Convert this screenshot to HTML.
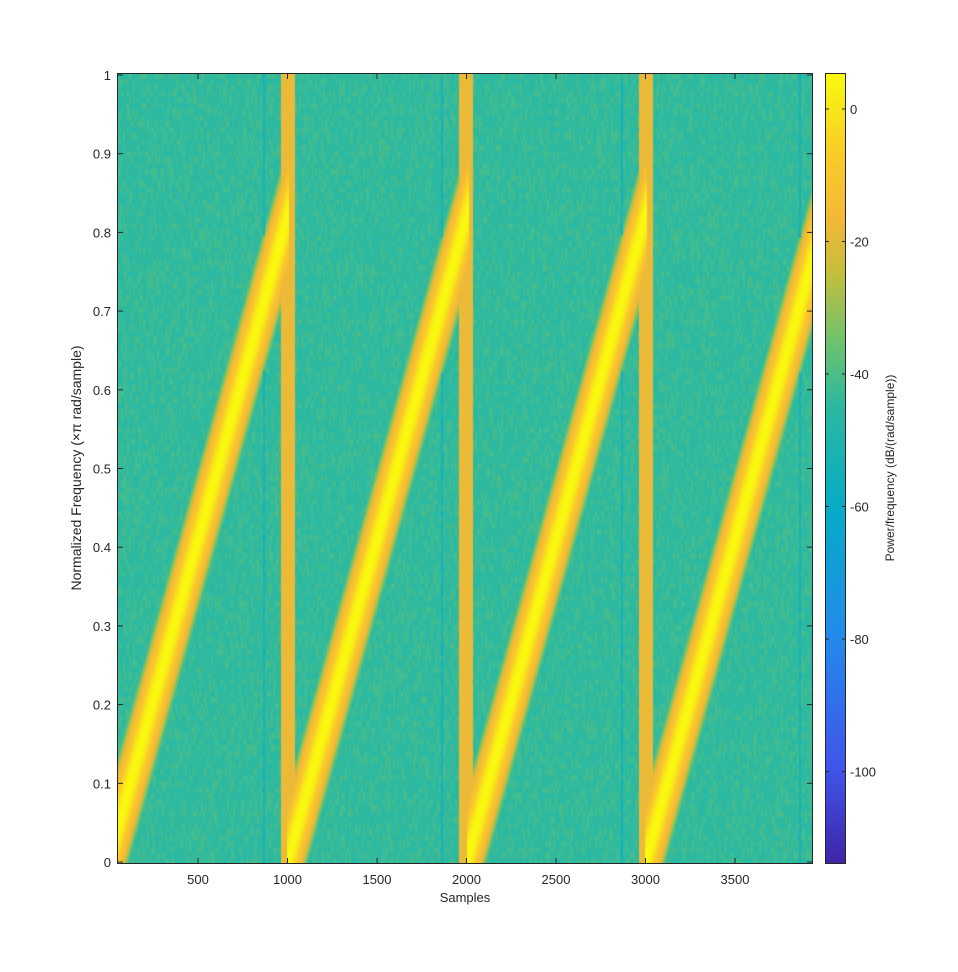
<!DOCTYPE html>
<html><head><meta charset="utf-8"><style>
body{margin:0;background:#fff;width:958px;height:972px;overflow:hidden;font-family:"Liberation Sans",sans-serif}
#wrap{position:relative;width:958px;height:972px}
canvas{position:absolute}
svg{position:absolute;left:0;top:0}
text{font-family:"Liberation Sans",sans-serif;font-size:13px;fill:#262626}
</style></head><body>
<div id="wrap">
<canvas id="hm" width="696" height="791" style="left:117px;top:73px"></canvas>
<canvas id="cb" width="21" height="791" style="left:825px;top:73px"></canvas>
<svg id="ax" width="958" height="972"></svg>
</div>
<script>
// data
const sweepStarts=[0,1000,2000,3000];
const sweepPeriod=[1000,1000,1000,1000];
const sweepEndFreq=[0.82,0.82,0.82,0.82];
const peakDb=[5,5,5,5];
const noiseFloorDb=-44;
const xTicks=[500,1000,1500,2000,2500,3000,3500];
const yTicks=[0,0.1,0.2,0.3,0.4,0.5,0.6,0.7,0.8,0.9,1];
const cTicks=[0,-20,-40,-60,-80,-100];
// axes
const X0=117,X1=813,Y0=73,Y1=864;
const sMin=47,sMax=3936;
const sx=s=>108.5+(s/500)*89.5;
const fy=f=>862-f*787;
const cy=d=>109+(-d/20)*132.5;
const cMax=5.4,cMin=-114;
const stopT=[0,0.12,0.29,0.45,0.58,0.66,0.75,0.82,0.9,1];
const stopC=[[62,38,168],[65,85,235],[35,140,235],[5,172,200],[45,185,160],[110,195,110],[200,190,60],[245,185,55],[250,205,40],[249,251,14]];
function parula(t){t=Math.max(0,Math.min(1,t));let i=0;while(i<stopT.length-2&&t>stopT[i+1])i++;
const r=(t-stopT[i])/(stopT[i+1]-stopT[i]),a=stopC[i],b=stopC[i+1];
return [a[0]+(b[0]-a[0])*r,a[1]+(b[1]-a[1])*r,a[2]+(b[2]-a[2])*r];}
function hash(a,b){let h=(a*374761393+b*668265263)|0;h=(h^(h>>>13))*1274126177|0;return ((h^(h>>>16))>>>0)/4294967296;}
function power(s,f,ci,ri){
  let p=noiseFloorDb+(hash(ci,ri)-0.5)*7;
  if(hash(ci,ri+777)>0.86) p-=18;
  for(let k=0;k<sweepStarts.length;k++){
    const st=sweepStarts[k];
    if(Math.abs(s-(st+sweepPeriod[k]))<37 && st+sweepPeriod[k]<sMax) p=Math.max(p,-18);
    const ph=s-st;
    if(ph>=-40&&ph<sweepPeriod[k]+10){
      const fc=Math.max(0,ph)/sweepPeriod[k]*sweepEndFreq[k];
      const d=Math.abs(f-fc);
      let band;
      if(d<0.04) band=peakDb[k]-12*(d/0.04)**2;
      else if(d<0.07) band=-7-12*((d-0.04)/0.03);
      else band=-19-26*Math.min(1,(d-0.07)/0.025);
      if(ph<0) band-=30;
      p=Math.max(p,band);
    }
    if(Math.abs(ph-865)<6 && st+865<sMax && p<-35) p=-53+(hash(ci,ri)-0.5)*8;
  }
  return p;
}
const hm=document.getElementById('hm').getContext('2d');
const W=696,H=791,img=hm.createImageData(W,H);
const cw=2,rh=3;
for(let cx=0;cx<W;cx+=cw){
  const s=sMin+(cx+cw/2)/W*(sMax-sMin);
  for(let ry=0;ry<H;ry+=rh){
    const f=(862-(Y0+ry+rh/2))/787;
    const c=parula((power(s,f,cx/cw,Math.floor(ry/6))-cMin)/(cMax-cMin));
    for(let x=cx;x<Math.min(W,cx+cw);x++)for(let y=ry;y<Math.min(H,ry+rh);y++){
      const o=(y*W+x)*4;img.data[o]=c[0];img.data[o+1]=c[1];img.data[o+2]=c[2];img.data[o+3]=255;}
  }
}
hm.putImageData(img,0,0);
const cb=document.getElementById('cb').getContext('2d');
for(let y=0;y<791;y++){const c=parula(1-y/790);cb.fillStyle=`rgb(${c[0]|0},${c[1]|0},${c[2]|0})`;cb.fillRect(0,y,21,1);}
// svg axes
const svg=document.getElementById('ax'),NS='http://www.w3.org/2000/svg';
function el(t,a,txt){const e=document.createElementNS(NS,t);for(const k in a)e.setAttribute(k,a[k]);if(txt!==undefined)e.textContent=txt;svg.appendChild(e);return e;}
let e=el('rect',{x:X0+0.5,y:Y0+0.5,width:X1-X0-1,height:Y1-Y0-1,fill:'none',stroke:'#262626'});

e=el('rect',{x:825.5,y:73.5,width:20,height:790,fill:'none',stroke:'#262626'});

xTicks.forEach(v=>{const x=sx(v);
  el('line',{x1:x,y1:Y1,x2:x,y2:Y1-6,stroke:'#262626'});el('line',{x1:x,y1:Y0,x2:x,y2:Y0+6,stroke:'#262626'});
  const t=el('text',{x:x,y:884,'text-anchor':'middle'},String(v));
  });
yTicks.forEach(v=>{const y=fy(v);
  el('line',{x1:X0,y1:y,x2:X0+6,y2:y,stroke:'#262626'});el('line',{x1:X1,y1:y,x2:X1-6,y2:y,stroke:'#262626'});
  const t=el('text',{x:111,y:y+5,'text-anchor':'end'},String(v));
  });
cTicks.forEach(v=>{const y=cy(v);
  el('line',{x1:825,y1:y,x2:829,y2:y,stroke:'#262626'});el('line',{x1:846,y1:y,x2:842,y2:y,stroke:'#262626'});
  const t=el('text',{x:850,y:y+5,'text-anchor':'start'},String(v));
  });
e=el('text',{x:465,y:902,'text-anchor':'middle','font-size':'14'},'Samples');

e=el('text',{x:0,y:0,'text-anchor':'middle',transform:'translate(81,468) rotate(-90)',style:'font-size:14px'},'Normalized Frequency  (×π rad/sample)');

e=el('text',{x:0,y:0,'text-anchor':'middle',transform:'translate(894,468) rotate(-90)',style:'font-size:12px'},'Power/frequency (dB/(rad/sample))');

</script>
</body></html>
